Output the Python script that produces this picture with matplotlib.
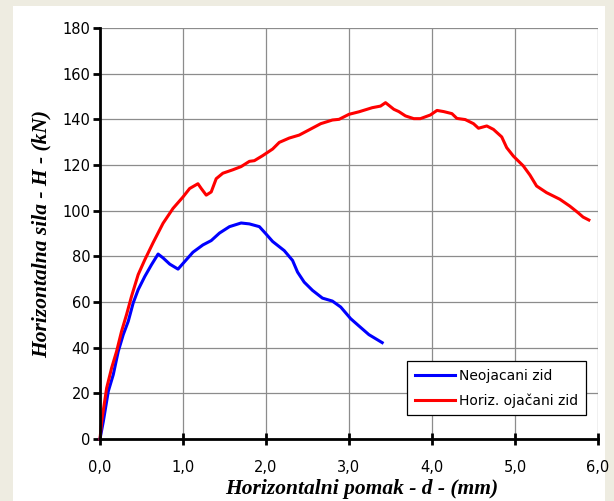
import matplotlib.pyplot as plt
from matplotlib.patches import Rectangle

# Neojacani zid (plavo)
d_neo = [0.0, 0.04, 0.10, 0.16, 0.22, 0.28, 0.34, 0.40, 0.46, 0.54, 0.62, 0.70,
         0.76, 0.84, 0.94, 1.02, 1.12, 1.24, 1.34, 1.44, 1.56, 1.70, 1.80, 1.92,
         2.00, 2.08, 2.22, 2.32, 2.38, 2.46, 2.56, 2.68, 2.80, 2.90, 3.02, 3.12,
         3.24, 3.40]
H_neo = [0.0, 7.7, 20.9, 28.2, 38.4, 45.7, 51.5, 59.6, 65.4, 71.2, 76.3, 81.0,
         79.3, 76.6, 74.4, 77.7, 81.8, 85.0, 86.9, 90.2, 93.0, 94.6, 94.2, 93.0,
         89.8, 86.5, 82.5, 78.2, 73.1, 68.7, 65.1, 61.7, 60.4, 57.8, 52.7, 49.5,
         45.7, 42.2]

# Horiz. ojacani zid (crveno)
d_oja = [0.0, 0.02, 0.08, 0.14, 0.20, 0.26, 0.32, 0.38, 0.46, 0.54, 0.64, 0.76,
         0.88, 1.00, 1.08, 1.18, 1.22, 1.28, 1.34, 1.40, 1.48, 1.60, 1.70, 1.80,
         1.86, 1.96, 2.08, 2.16, 2.28, 2.40, 2.52, 2.66, 2.80, 2.88, 3.00, 3.12,
         3.28, 3.38, 3.44, 3.54, 3.60, 3.68, 3.78, 3.86, 3.98, 4.06, 4.14, 4.24,
         4.30, 4.40, 4.50, 4.56, 4.66, 4.74, 4.84, 4.90, 4.98, 5.10, 5.18, 5.26,
         5.38, 5.54, 5.66, 5.76, 5.82, 5.89]
H_oja = [0.0, 7.7, 22.3, 31.1, 38.4, 47.2, 54.5, 62.5, 72.0, 78.5, 86.0, 94.5,
         101.0, 106.0, 109.7, 111.8, 109.7, 106.8, 108.2, 114.0, 116.4, 117.9, 119.3, 121.6,
         121.9, 124.1, 127.0, 129.9, 131.8, 133.1, 135.4, 138.1, 139.7, 140.0, 142.2, 143.3,
         145.1, 145.8, 147.3, 144.4, 143.4, 141.5, 140.3, 140.3, 141.9, 143.9, 143.4, 142.5,
         140.4, 139.9, 138.1, 136.1, 137.1, 135.6, 132.3, 127.6, 123.9, 119.6, 115.6, 110.8,
         107.9, 105.0, 102.0, 99.1, 97.2, 95.9]

x_ticks = [0, 1, 2, 3, 4, 5, 6]
y_ticks = list(range(0, 181, 20))

fig = plt.figure(figsize=(6.14, 5.01), dpi=100, facecolor='#EEECE1')
fig.add_artist(Rectangle((13/614, 0), 592/614, 495/501, transform=fig.transFigure,
                         facecolor='white', edgecolor='none', zorder=-5))

ax = fig.add_axes([100/614, 62/501, 498/614, 411/501])
ax.set_facecolor('white')

ax.plot(d_neo, H_neo, color='#0000FF', lw=2.2, label='Neojacani zid', clip_on=False, zorder=3)
ax.plot(d_oja, H_oja, color='#FF0000', lw=2.2, label='Horiz. ojačani zid', clip_on=False, zorder=3)

ax.set_xlim(0, 6)
ax.set_ylim(0, 180)
ax.set_xticks(x_ticks)
ax.set_xticklabels([f'{v:.1f}'.replace('.', ',') for v in x_ticks])
ax.set_yticks(y_ticks)
ax.grid(True, color='#8C8C8C', lw=0.9)
ax.set_axisbelow(True)

for s in ['top', 'right']:
    ax.spines[s].set_visible(False)
for s in ['left', 'bottom']:
    ax.spines[s].set_linewidth(2.0)
    ax.spines[s].set_zorder(4)

ax.tick_params(axis='x', direction='inout', length=8, width=2.0, labelsize=10.5, pad=11)
ax.tick_params(axis='y', direction='out', length=5, width=2.0, labelsize=10.5, pad=2)

lab_font = dict(family='Liberation Serif', weight='bold', style='italic', size=15.5)
ax.set_xlabel('Horizontalni pomak - d - (mm)', labelpad=3, x=0.525, **lab_font)
ax.set_ylabel('Horizontalna sila - H - (kN)', labelpad=8, **lab_font)

leg = ax.legend(loc='lower right', bbox_to_anchor=(0.976, 0.058), fancybox=False,
                edgecolor='black', framealpha=1, fontsize=10, handlelength=2.9,
                handletextpad=0.3, borderpad=0.55, labelspacing=0.75, borderaxespad=0)
leg.get_frame().set_linewidth(0.9)

fig.savefig('out.png', dpi=100, facecolor=fig.get_facecolor())
